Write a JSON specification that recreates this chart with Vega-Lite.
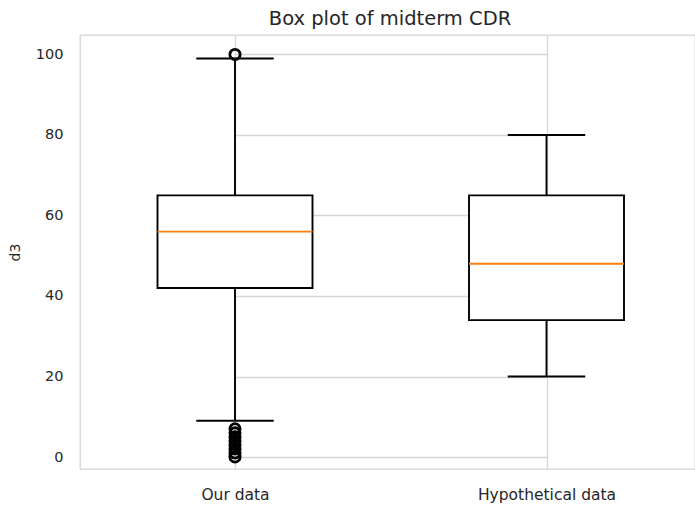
{
  "$schema": "https://vega.github.io/schema/vega-lite/v6.json",
  "autosize": {"type": "none"},
  "width": 615,
  "height": 434,
  "padding": {"left": 80, "top": 35, "right": 0, "bottom": 36},
  "background": "white",
  "title": {
    "text": "Box plot of midterm CDR",
    "font": "DejaVu Sans",
    "fontSize": 19.5,
    "fontWeight": "normal",
    "color": "#262626",
    "anchor": "middle",
    "frame": "group",
    "baseline": "alphabetic",
    "offset": 9,
    "dx": 2.5,
    "dy": 18
  },
  "datasets": {
    "boxes": [
      {"group": "Our data", "lower": 9, "q1": 42, "median": 56, "q3": 65, "upper": 99},
      {"group": "Hypothetical data", "lower": 20, "q1": 34, "median": 48, "q3": 65, "upper": 80}
    ],
    "fliers": [
      {"group": "Our data", "value": 100},
      {"group": "Our data", "value": 7},
      {"group": "Our data", "value": 6},
      {"group": "Our data", "value": 5},
      {"group": "Our data", "value": 4},
      {"group": "Our data", "value": 3},
      {"group": "Our data", "value": 2},
      {"group": "Our data", "value": 1},
      {"group": "Our data", "value": 0}
    ]
  },
  "encoding": {
    "x": {
      "field": "group",
      "type": "nominal",
      "sort": ["Our data", "Hypothetical data"],
      "scale": {"type": "point", "padding": 0, "range": [155, 466.5]},
      "axis": {
        "title": null,
        "labelAngle": 0,
        "labelFont": "DejaVu Sans",
        "labelFontSize": 15.5,
        "labelColor": "#262626",
        "labelPadding": 18,
        "ticks": false,
        "domain": false,
        "grid": true
      }
    }
  },
  "layer": [
    {
      "data": {"name": "boxes"},
      "mark": {"type": "rule", "color": "black", "strokeWidth": 1.9},
      "encoding": {
        "y": {
          "field": "lower",
          "type": "quantitative",
          "scale": {"domain": [-2.98, 104.84], "nice": false, "zero": false},
          "axis": {
            "title": "d3",
            "titleFont": "DejaVu Sans",
            "titleFontSize": 14,
            "titleFontWeight": "normal",
            "titleColor": "#262626",
            "titlePadding": 13,
            "values": [0, 20, 40, 60, 80, 100],
            "labelFont": "DejaVu Sans",
            "labelFontSize": 14.5,
            "labelColor": "#262626",
            "labelPadding": 17,
            "ticks": false,
            "domain": false,
            "grid": true
          }
        },
        "y2": {"field": "upper"}
      }
    },
    {
      "data": {"name": "boxes"},
      "mark": {"type": "bar", "size": 155, "fill": "white", "stroke": "black", "strokeWidth": 1.9},
      "encoding": {
        "y": {"field": "q1", "type": "quantitative"},
        "y2": {"field": "q3"}
      }
    },
    {
      "data": {"name": "boxes"},
      "mark": {"type": "tick", "size": 155, "thickness": 1.9, "color": "#ff7f0e", "opacity": 1},
      "encoding": {
        "y": {"field": "median", "type": "quantitative"}
      }
    },
    {
      "data": {"name": "boxes"},
      "mark": {"type": "tick", "size": 77.5, "thickness": 1.9, "color": "black", "opacity": 1},
      "encoding": {
        "y": {"field": "lower", "type": "quantitative"}
      }
    },
    {
      "data": {"name": "boxes"},
      "mark": {"type": "tick", "size": 77.5, "thickness": 1.9, "color": "black", "opacity": 1},
      "encoding": {
        "y": {"field": "upper", "type": "quantitative"}
      }
    },
    {
      "data": {"name": "fliers"},
      "mark": {"type": "point", "shape": "circle", "filled": false, "size": 105, "stroke": "black", "strokeWidth": 2.8, "opacity": 1},
      "encoding": {
        "y": {"field": "value", "type": "quantitative"}
      }
    }
  ],
  "config": {
    "view": {"stroke": "#d3d3d3", "strokeWidth": 1.3},
    "axis": {"gridColor": "#d6d6d6", "gridWidth": 1.3, "gridOpacity": 1}
  }
}
